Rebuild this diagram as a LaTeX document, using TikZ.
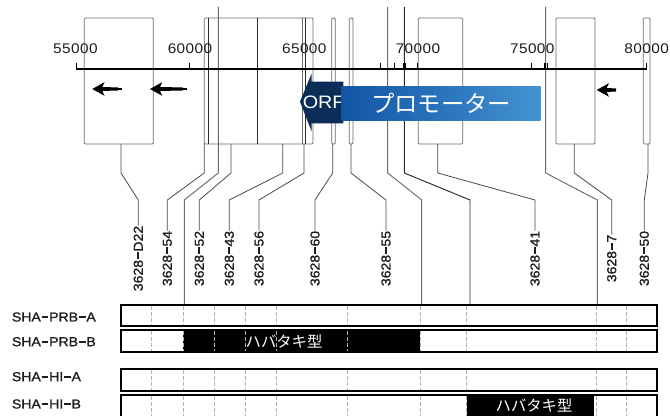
\documentclass[tikz,border=0pt]{standalone}
\usepackage{fontspec}
\setmainfont{Liberation Sans}[FakeStretch=1.08,FakeBold=1.2]
\newfontfamily\plainsans{Liberation Sans}[FakeStretch=1.1,LetterSpace=3]
\newfontfamily\orfsans{Liberation Sans}[FakeStretch=1.1]
\newfontfamily\jp{Noto Sans CJK JP}
\usetikzlibrary{arrows.meta}
\definecolor{boxgray}{HTML}{6A6A6A}
\definecolor{darkline}{HTML}{2A2A2A}
\definecolor{conngray}{HTML}{4A4A4A}
\definecolor{labtext}{HTML}{1E1E1E}
\definecolor{navy}{HTML}{0B2D57}
\definecolor{promL}{HTML}{1255A5}
\definecolor{promR}{HTML}{4393D1}
\definecolor{dashgray}{HTML}{B0B0B0}
\newcommand\labfont{\fontsize{9.75}{10}\selectfont}
\newcommand\numfont{\plainsans\fontsize{10.5}{11}\selectfont}
\newcommand\orffont{\orfsans\fontsize{13.5}{14}\selectfont}
\newcommand\dsh{\kern0.6pt\rule[0.27em]{0.52em}{0.15em}\kern0.6pt}
\begin{document}
\begin{tikzpicture}[x=0.75pt,y=-0.75pt,
  gbox/.style={draw=boxgray,line width=0.6pt,rounded corners=0.8pt},
  dline/.style={draw=darkline,line width=0.75pt},
  longl/.style={draw=boxgray,line width=0.7pt},
  conn/.style={draw=conngray,line width=0.6pt},
  lab/.style={rotate=90,inner sep=0pt,font=\labfont,text=labtext},
  num/.style={inner sep=0pt,font=\numfont,text=labtext},
  rowlab/.style={anchor=west,inner sep=0pt,font=\labfont,text=labtext},
  rowbox/.style={draw=black,line width=1.5pt},
  dashv/.style={draw=dashgray,line width=0.75pt,dash pattern=on 3pt off 1.5pt},
  jptext/.style={text=white,inner sep=0pt,font=\jp\fontsize{11.5}{12}\selectfont},
  tick/.style={draw=black,line width=0.7pt}]
\useasboundingbox (0,0) rectangle (670,416);
\clip (0,0) rectangle (670,416);
\fill[white] (0,0) rectangle (670,416);

% gene boxes
\draw[gbox] (84.3,18) rectangle (153.3,144);
\draw[gbox] (204.3,18) rectangle (313,144);
\draw[dline] (208.3,18) -- (208.3,144);
\draw[dline] (305.5,18) -- (305.5,144);
\draw[dline] (257.7,18) -- (257.7,144);
\draw[gbox] (302.7,18) -- (302.7,144);
\draw[gbox] (331.7,18) rectangle (335.3,144);
\draw[gbox] (349.3,18) rectangle (353,144);
\draw[gbox] (418.3,18) rectangle (462.7,144);
\draw[gbox] (556,18) rectangle (595,144);
\draw[gbox] (643.3,18) rectangle (650,144);

% long lines to the rows
\coordinate (t1) at (218.3,7);   \coordinate (r1) at (184.3,305);
\coordinate (t2) at (387.7,7);   \coordinate (r2) at (421.7,305);
\coordinate (t3) at (404.3,7);   \coordinate (r3) at (470,305);
\coordinate (t4) at (545.7,7);   \coordinate (r4) at (597.3,305);
\draw[longl] (t1) -- (t1 |- 0,173) -- (r1 |- 0,200) -- (r1);
\draw[longl] (t2) -- (t2 |- 0,173) -- (r2 |- 0,200) -- (r2);
\draw[longl,draw=darkline] (t3) -- (t3 |- 0,173) -- (r3 |- 0,200) -- (r3);
\draw[longl] (t4) -- (t4 |- 0,173) -- (r4 |- 0,200) -- (r4);

% axis
\draw[black,line width=1.1pt] (76,69) -- (646.5,69);
\foreach \x in {76,189.3,380.7,394,417.7,531.7,646.5}
  \draw[tick] (\x,62.7) -- (\x,69);
\draw[black,line width=2pt] (404.3,63) -- (404.3,69);
\draw[tick,line width=1.2pt] (545,63) -- (545,69);
\draw[tick,line width=1.2pt] (547.6,63) -- (547.6,69);
\node[num] (n55) at (75.5,49) {55000};
\node[num] (n60) at (190,49) {60000};
\node[num] (n65) at (304.3,49) {65000};
\node[num] (n70) at (418,49) {70000};
\node[num] (n75) at (532.3,49) {75000};
\node[num] (n80) at (646.7,49) {80000};

% small arrows
\fill[black] (92.3,89) -- (104.5,82.2) -- (102.3,87.2) -- (118,87.3) -- (118,90.7) -- (102.3,90.8) -- (104.5,95.8) -- cycle;
\draw[black,line width=0.8pt] (117,89) -- (121.7,89);
\fill[black] (150,89) -- (162.2,82.2) -- (160,87.2) -- (182.5,87.3) -- (182.5,90.7) -- (160,90.8) -- (162.2,95.8) -- cycle;
\draw[black,line width=0.8pt] (182,89) -- (186.7,89);
\fill[black] (596.7,90) -- (608.9,83.2) -- (606.7,88.2) -- (616,88.3) -- (616,91.7) -- (606.7,91.8) -- (608.9,96.8) -- cycle;

% ORF arrow
\fill[navy] (300,101.7) .. controls (304,92) .. (311.7,73.3) -- (311.7,81.7) -- (343.3,81.7) -- (343.3,123.3) -- (311.7,123.3) -- (311.7,131.7) .. controls (304,112) .. (300,101.7) -- cycle;
\node[anchor=west,inner sep=0pt,text=white,font=\orffont] (orf) at (302.5,102.5) {ORF};

% promoter
\node[left color=promL,right color=promR,minimum width=149.25pt,minimum height=26pt,inner sep=0pt,
      text=white,font=\jp\fontsize{17.5}{18}\selectfont] (prom) at (441.2,103.35) {プロモーター};

% labels and connectors
\foreach \n/\sx/\lx/\t in {d22/121/138.3/D22, a54/204.3/167.3/54, a52/231/199.3/52,
    a43/282.7/229.3/43, a56/304/259/56, a60/332.7/315/60, a55/351/386/55,
    a41/437.7/535/41, a7/574.3/611.7/7, a50/648/644.3/50} {
  \node[lab] (l\n) at (\lx,258.5) {3628\dsh\t};
  \coordinate (s\n) at (\sx,144);
  \draw[conn] (s\n) -- (s\n |- 0,173) -- (l\n.east |- 0,200) -- (l\n.east);
}

% rows
\foreach \ya/\yb in {305/326, 330/352, 369/391, 395/420}
  \fill[white] (120.7,\ya) rectangle (656.7,\yb);
\fill[black] (183.3,330) rectangle (420,352);
\fill[black] (466.7,395) rectangle (594.3,420);
\foreach \ya/\yb in {305/326, 330/352, 369/391, 395/420}
  \draw[rowbox] (120.7,\ya) rectangle (656.7,\yb);

\node[jptext] (hb1) at (284,341.7) {ハバタキ型};
\node[jptext] (hb2) at (534,405) {ハバタキ型};

\foreach \ya/\yb in {306/325, 331/351, 370/390, 396/420}
  \foreach \x in {151.7,183.3,214,245,276,347.3,420,466.7,596,626.7}
    \draw[dashv] (\x,\ya) -- (\x,\yb);

\node[rowlab] (rl1) at (11.7,317) {SHA\dsh PRB\dsh A};
\node[rowlab] (rl2) at (11.7,341.7) {SHA\dsh PRB\dsh B};
\node[rowlab] (rl3) at (11.7,376.7) {SHA\dsh HI\dsh A};
\node[rowlab] (rl4) at (11.7,404) {SHA\dsh HI\dsh B};
\end{tikzpicture}
\end{document}
